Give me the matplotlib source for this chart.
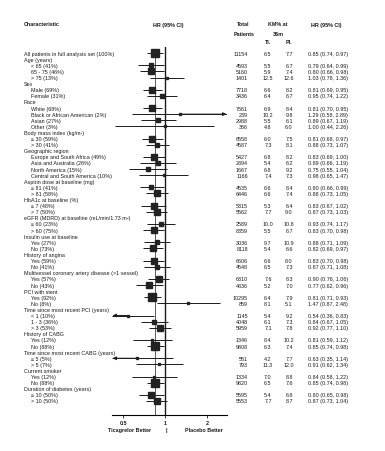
import matplotlib as mpl
mpl.use('Agg')
import matplotlib.pyplot as plt
import matplotlib.transforms as mtransforms
import numpy as np

plt.rcParams['font.family'] = ['Liberation Sans', 'DejaVu Sans']

# rows: (label, is_header)
labels = [
    'All patients in full analysis set (100%)', 'Age (years)', '< 65 (41%)',
    '65 - 75 (46%)', '> 75 (13%)', 'Sex', 'Male (69%)', 'Female (31%)',
    'Race', 'White (68%)', 'Black or African American (2%)', 'Asian (27%)',
    'Other (3%)', 'Body mass index (kg/m\u00b2)', '\u2264 30 (59%)',
    '> 30 (41%)', 'Geographic region', 'Europe and South Africa (49%)',
    'Asia and Australia (26%)', 'North America (15%)',
    'Central and South America (10%)', 'Aspirin dose at baseline (mg)',
    '\u2264 81 (41%)', '> 81 (58%)', 'HbA1c at baseline (%)', '\u2264 7 (48%)',
    '> 7 (50%)', 'eGFR (MDRD) at baseline (mL/min/1.73 m\u00b2)',
    '\u2264 60 (23%)', '> 60 (75%)', 'Insulin use at baseline', 'Yes (27%)',
    'No (73%)', 'History of angina', 'Yes (59%)', 'No (41%)',
    'Multivessel coronary artery disease (>1 vessel)', 'Yes (57%)',
    'No (43%)', 'PCI with stent', 'Yes (92%)', 'No (8%)',
    'Time since most recent PCI (years)', '< 1 (10%)', '1 - 3 (36%)',
    '> 3 (53%)', 'History of CABG', 'Yes (12%)', 'No (88%)',
    'Time since most recent CABG (years)', '\u2264 5 (5%)', '> 5 (7%)',
    'Current smoker', 'Yes (12%)', 'No (88%)', 'Duration of diabetes (years)',
    '\u2264 10 (50%)', '> 10 (50%)',
]
headers = [1, 5, 8, 13, 16, 21, 24, 27, 30, 33, 36, 39, 42, 46, 49, 52, 55]

# data rows (row index -> values)
data_rows = [0, 2, 3, 4, 6, 7, 9, 10, 11, 12, 14, 15, 17, 18, 19, 20, 22, 23,
             25, 26, 28, 29, 31, 32, 34, 35, 37, 38, 40, 41, 43, 44, 45, 47,
             48, 50, 51, 53, 54, 56, 57]
patients = [11154, 4593, 5160, 1401, 7718, 3436, 7561, 239, 2988, 366, 6558,
            4587, 5427, 2894, 1667, 1166, 4535, 6446, 5315, 5562, 2589, 8359,
            3036, 8118, 6606, 4548, 6310, 4836, 10295, 859, 1145, 4048, 5959,
            1346, 9808, 551, 793, 1334, 9820, 5595, 5553]
km_ti = ['6.5', '5.5', '5.9', '12.5', '6.6', '6.4', '6.9', '10.2', '5.5', '4.8',
         '6.0', '7.3', '6.8', '5.4', '6.8', '7.4', '6.6', '6.6', '5.3', '7.7',
         '10.0', '5.5', '9.7', '5.4', '6.6', '6.5', '7.6', '5.2', '6.4', '8.1',
         '5.4', '6.1', '7.1', '8.4', '6.3', '4.2', '11.3', '7.0', '6.5', '5.4',
         '7.7']
km_pl = ['7.7', '6.7', '7.4', '12.6', '8.2', '6.7', '8.4', '9.8', '6.1', '6.0',
         '7.5', '8.1', '8.2', '6.2', '9.2', '7.3', '8.4', '7.4', '6.4', '9.0',
         '10.8', '6.7', '10.9', '6.6', '8.0', '7.3', '8.3', '7.0', '7.9', '5.1',
         '9.2', '7.3', '7.8', '10.2', '7.4', '7.7', '12.0', '8.8', '7.6', '6.8',
         '8.7']
hr = [0.85, 0.79, 0.80, 1.03, 0.81, 0.95, 0.81, 1.29, 0.89, 1.00, 0.81, 0.88,
      0.83, 0.89, 0.75, 0.98, 0.80, 0.88, 0.83, 0.87, 0.93, 0.83, 0.88, 0.82,
      0.83, 0.87, 0.90, 0.77, 0.81, 1.47, 0.54, 0.84, 0.92, 0.81, 0.85, 0.63,
      0.91, 0.84, 0.85, 0.80, 0.87]
lo = [0.74, 0.64, 0.66, 0.78, 0.69, 0.74, 0.70, 0.58, 0.67, 0.44, 0.68, 0.73,
      0.69, 0.66, 0.55, 0.65, 0.66, 0.73, 0.67, 0.73, 0.74, 0.70, 0.71, 0.69,
      0.70, 0.71, 0.76, 0.62, 0.71, 0.87, 0.36, 0.67, 0.77, 0.59, 0.74, 0.35,
      0.62, 0.58, 0.74, 0.65, 0.73]
hi = [0.97, 0.99, 0.98, 1.36, 0.95, 1.22, 0.95, 2.89, 1.19, 2.26, 0.97, 1.07,
      1.00, 1.19, 1.04, 1.47, 0.99, 1.05, 1.02, 1.03, 1.17, 0.98, 1.09, 0.97,
      0.98, 1.08, 1.06, 0.96, 0.93, 2.48, 0.83, 1.05, 1.10, 1.12, 0.98, 1.14,
      1.34, 1.22, 0.98, 0.98, 1.04]

W, H = 385, 452
XMIN, XMAX = 0.417, 2.78
color = '#1a1a1a'
fs = 3.85

fig = plt.figure(figsize=(W / 100, H / 100), dpi=100)
ax = fig.add_axes([112 / W, 1 - 416 / H, 115 / W, 368 / H])
ax.set_xscale('log')
ax.set_xlim(XMIN, XMAX)
ax.set_ylim(59.3, -1)
for s in ['top', 'left', 'right']:
    ax.spines[s].set_visible(False)
ax.spines['bottom'].set_linewidth(0.8)
ax.set_yticks([])
ax.set_xticks([0.5, 1, 2])
ax.set_xticklabels(['0.5', '1', '2'], fontsize=fs, fontweight='bold')
ax.xaxis.set_minor_locator(mpl.ticker.NullLocator())
ax.tick_params(axis='x', length=2, width=0.6, pad=1.5, colors=color)

ax.axvline(1, color=color, lw=1.0, zorder=1)
ax.axvline(0.85, color=color, lw=0.5, ymax=0.985, zorder=1)

for i, r in enumerate(data_rows):
    left, right = max(lo[i], XMIN), min(hi[i], XMAX)
    ax.plot([left, right], [r, r], color=color, lw=0.7, solid_capstyle='butt',
            zorder=2)
    if lo[i] < XMIN:
        ax.annotate('', xy=(XMIN * 1.01, r), xytext=(hr[i], r),
                    arrowprops=dict(arrowstyle='-|>', color=color, lw=0.7,
                                    mutation_scale=5, shrinkA=0, shrinkB=0))
    if hi[i] > XMAX:
        ax.annotate('', xy=(XMAX * 0.99, r), xytext=(hr[i], r),
                    arrowprops=dict(arrowstyle='-|>', color=color, lw=0.7,
                                    mutation_scale=5, shrinkA=0, shrinkB=0))
    ms = max(5.6 * np.sqrt(patients[i] / 11154), 1.8)
    ax.plot(hr[i], r, marker='s', ms=ms, color='#222222', mec='#222222',
            zorder=3)

trans = mtransforms.blended_transform_factory(fig.transFigure, ax.transData)
for r, lab in enumerate(labels):
    x = 24 if (r in headers or r == 0) else 31
    ax.text(x / W, r, lab, transform=trans, fontsize=fs, va='center',
            ha='left', color=color, clip_on=False)

for i, r in enumerate(data_rows):
    ax.text(248 / W, r, str(patients[i]), transform=trans, fontsize=fs,
            va='center', ha='right', color=color)
    ax.text(268 / W, r, km_ti[i], transform=trans, fontsize=fs,
            va='center', ha='center', color=color)
    ax.text(289 / W, r, km_pl[i], transform=trans, fontsize=fs,
            va='center', ha='center', color=color)
    ax.text(308 / W, r, f'{hr[i]:.2f} ({lo[i]:.2f}, {hi[i]:.2f})',
            transform=trans, fontsize=fs, va='center', ha='left', color=color)


def ftext(x, y, s, ha='center'):
    fig.text(x / W, 1 - y / H, s, fontsize=fs, fontweight='bold', ha=ha,
             va='center', color=color)


ftext(24, 25, 'Characteristic', ha='left')
ftext(168, 25, 'HR (95% CI)')
ftext(243, 25, 'Total')
ftext(244, 34, 'Patients')
ftext(278, 25, 'KM% at')
ftext(278, 34, '36m')
ftext(268, 43, 'Tl.')
ftext(289, 43, 'Pl.')
ftext(326, 25, 'HR (95% CI)')
ftext(130, 431, 'Ticagrelor Better')
ftext(166, 431, '|')
ftext(204, 431, 'Placebo Better')

fig.savefig('out.png', dpi=100)
